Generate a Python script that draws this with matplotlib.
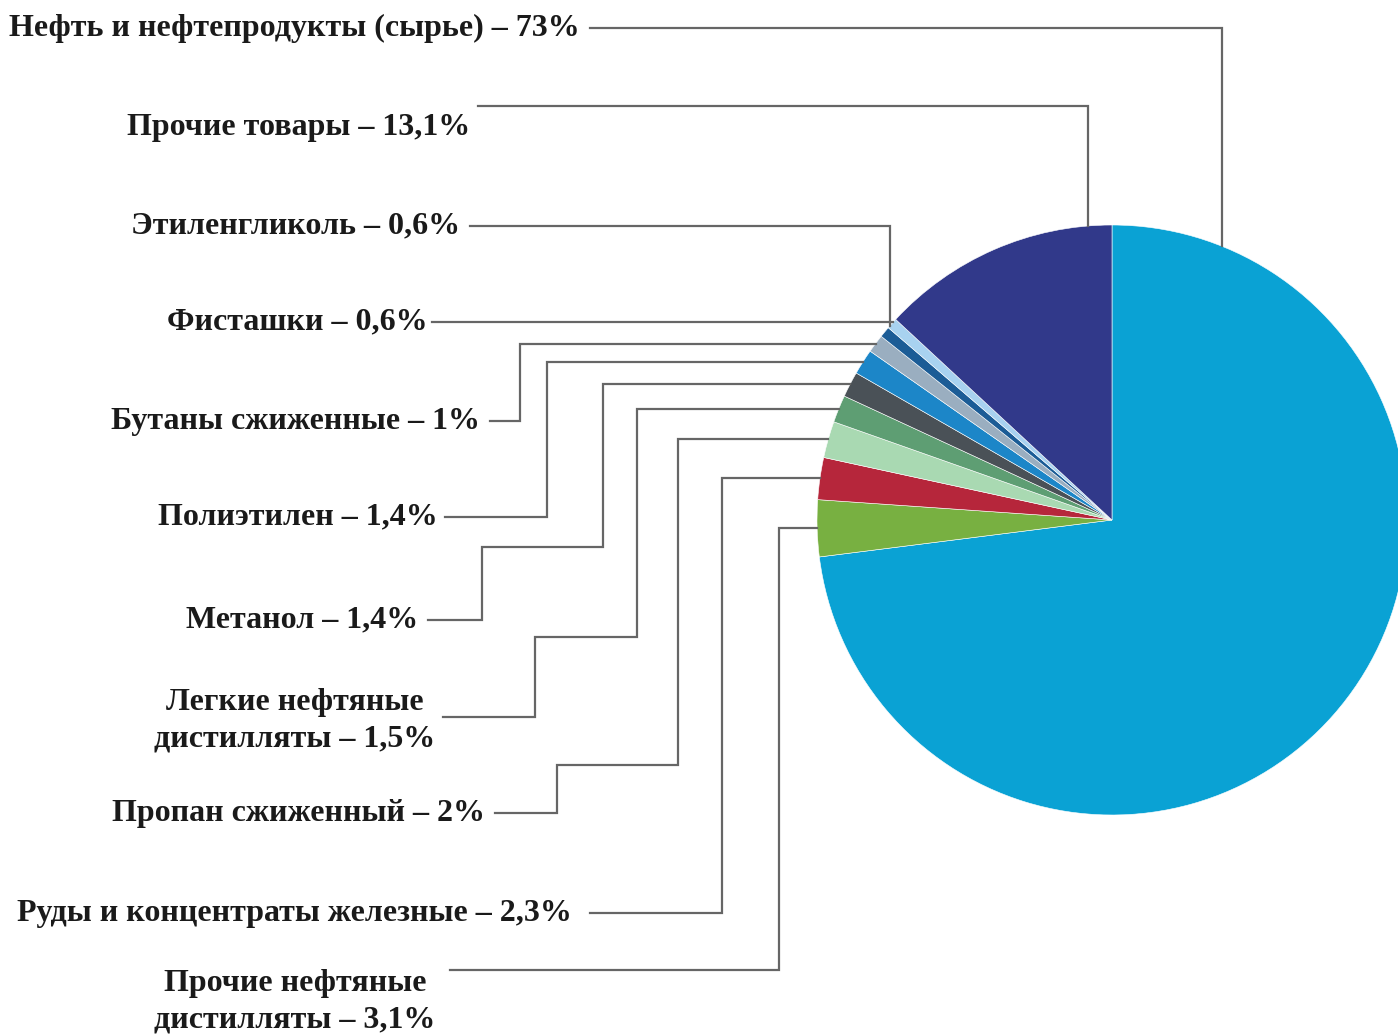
import numpy as np
import matplotlib
matplotlib.use("Agg")
import matplotlib.pyplot as plt

# data, in pie order (clockwise from the top)
labels = ['Нефть и нефтепродукты (сырье)', 'Прочие нефтяные\nдистилляты',
          'Руды и концентраты железные', 'Пропан сжиженный',
          'Легкие нефтяные\nдистилляты', 'Метанол', 'Полиэтилен',
          'Бутаны сжиженные', 'Фисташки', 'Этиленгликоль', 'Прочие товары']
shares = [73, 3.1, 2.3, 2, 1.5, 1.4, 1.4, 1, 0.6, 0.6, 13.1]
colors = ['#0AA2D4', '#78B041', '#B6263B', '#A9D9B2', '#5E9E73', '#4A5157',
          '#1C86C8', '#9AAEC0', '#1B5C96', '#A8D2F0', '#31398A']

W, H = 1398, 1036
cx, cy, R = 1112, 520, 295

# label anchors (pixels): x, y, horizontal alignment
txt_pos = [(580, 28, 'right'), (295, 1002, 'center'), (572, 913, 'right'),
           (485, 813, 'right'), (295, 721, 'center'), (418, 620, 'right'),
           (438, 517, 'right'), (480, 421, 'right'), (428, 322, 'right'),
           (460, 226, 'right'), (470, 128, 'right')]
# leader elbows; None = height of the wedge middle; last letter = final run
leaders = [
    ([(590, 28), (1222, 28)], 'v'),
    ([(450, 970), (779, 970), (779, None)], 'h'),
    ([(590, 913), (722, 913), (722, None)], 'h'),
    ([(495, 813), (557, 813), (557, 765), (678, 765), (678, None)], 'h'),
    ([(443, 717), (535, 717), (535, 637), (637, 637), (637, None)], 'h'),
    ([(428, 620), (482, 620), (482, 547), (603, 547), (603, None)], 'h'),
    ([(445, 517), (547, 517), (547, None)], 'h'),
    ([(490, 421), (520, 421), (520, None)], 'h'),
    ([(432, 322)], 'h'),
    ([(470, 226), (890, 226)], 'v'),
    ([(478, 106), (1088, 106)], 'v'),
]

fig = plt.figure(figsize=(W / 100, H / 100), dpi=100)
ax = fig.add_axes([0, 0, 1, 1])

# y axis is inverted, so start at -90 and go "counterclock" to get clockwise from top
wedges, _ = ax.pie(shares, colors=colors, startangle=-90, counterclock=True,
                   center=(cx, cy), radius=R,
                   wedgeprops=dict(edgecolor='white', linewidth=0.4))

ax.set_xlim(0, W)
ax.set_ylim(H, 0)
ax.set_aspect('equal')
ax.axis('off')

for i, (lab, v) in enumerate(zip(labels, shares)):
    x, y, ha = txt_pos[i]
    s = f"{v:g}".replace('.', ',')
    ax.text(x, y, f"{lab} – {s}%", ha=ha, va='center', ma='center',
            family='Liberation Serif', weight='bold', fontsize=23,
            color='#1a1a1a', linespacing=1.32)

    w = wedges[i]
    mid = np.deg2rad((w.theta1 + w.theta2) / 2)
    ymid = cy + R * np.sin(mid)
    pts, mode = leaders[i]
    pts = [(px, ymid if py is None else py) for px, py in pts]
    lx, ly = pts[-1]
    if mode == 'h':
        pts.append((cx - np.sqrt(R**2 - (ly - cy)**2), ly))
    else:
        pts.append((lx, cy - np.sqrt(R**2 - (lx - cx)**2)))
    xs, ys = zip(*pts)
    ax.plot(xs, ys, color='#666666', lw=1.6, solid_joinstyle='miter')

fig.savefig('out.png', dpi=100)
